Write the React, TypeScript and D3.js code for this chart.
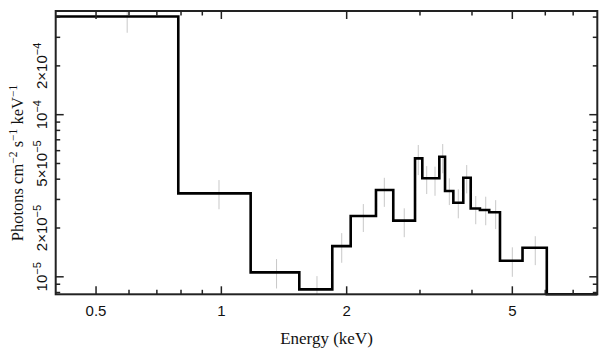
import React from "react";
import * as d3 from "d3";

// Model histogram (step) bin edges in keV and values (photons cm^-2 s^-1 keV^-1)
const binEdges = [0.4, 0.788, 1.176, 1.539, 1.847, 2.045, 2.352, 2.588, 2.919, 3.039, 3.339, 3.446, 3.608, 3.812, 3.972, 4.18, 4.4, 4.67, 5.29, 6.05, 8.0];
const modelValues = [4.03e-4, 3.27e-5, 1.065e-5, 8.36e-6, 1.547e-5, 2.37e-5, 3.43e-5, 2.22e-5, 5.38e-5, 4.05e-5, 5.5e-5, 3.38e-5, 2.86e-5, 4.08e-5, 2.64e-5, 2.58e-5, 2.5e-5, 1.255e-5, 1.51e-5, 7.0e-6];

// Data points (gray error bars)
const dataEnergy = [0.594, 0.987, 1.357, 1.697, 1.946, 2.193, 2.463, 2.75, 2.972, 3.114, 3.26, 3.402, 3.529, 3.708, 3.885, 4.084, 4.316, 4.56, 5.0, 5.676];
const dataValue = [3.9e-4, 3.28e-5, 1.067e-5, 8.5e-6, 1.54e-5, 2.35e-5, 3.39e-5, 2.2e-5, 5.37e-5, 4.03e-5, 3.97e-5, 5.47e-5, 3.41e-5, 2.88e-5, 4.08e-5, 2.63e-5, 2.6e-5, 2.47e-5, 1.26e-5, 1.48e-5];
const dataError = [0.7e-4, 0.67e-5, 0.22e-5, 0.16e-5, 0.32e-5, 0.46e-5, 0.69e-5, 0.445e-5, 1.13e-5, 0.79e-5, 0.81e-5, 1.12e-5, 0.64e-5, 0.585e-5, 0.81e-5, 0.52e-5, 0.52e-5, 0.5e-5, 0.26e-5, 0.3e-5];

// Axis ticks
const xMajorTicks = [0.5, 1, 2, 5];
const xTickLabels = ["0.5", "1", "2", "5"];
const xMinorTicks = [0.6, 0.7, 0.8, 0.9, 3, 4, 6, 7];
const yMajorTicks = [1e-5, 1e-4];
const yMinorTicks = [8e-6, 9e-6, 2e-5, 3e-5, 4e-5, 5e-5, 6e-5, 7e-5, 8e-5, 9e-5, 2e-4, 3e-4, 4e-4];
const yLabelValues = [1e-5, 2e-5, 5e-5, 1e-4, 2e-4];
const yLabelMantissa = ["", "2×", "5×", "", "2×"];
const yLabelExponent = ["−5", "−5", "−5", "−4", "−4"];

const W = 609;
const H = 357;
const left = 55.7;
const right = 597.3;
const top = 11;
const bottom = 294.3;

export default function App() {
  const x = d3.scaleLog().domain([0.4, 8]).range([left, right]);
  const y = d3.scaleLog().domain([7.8e-6, 4.36e-4]).range([bottom, top]).clamp(true);

  const stepPts: [number, number][] = modelValues.map((v, i) => [binEdges[i], v]);
  stepPts.push([binEdges[binEdges.length - 1], modelValues[modelValues.length - 1]]);
  const stepLine = d3
    .line<[number, number]>()
    .x((d) => x(d[0]))
    .y((d) => y(d[1]))
    .curve(d3.curveStepAfter);

  const axisColor = "#222";
  const sans = "'Liberation Sans', Arial, Helvetica, sans-serif";
  const serif = "'Liberation Serif', 'Times New Roman', serif";
  const yUnclamped = d3.scaleLog().domain([7.8e-6, 4.36e-4]).range([bottom, top]);

  return (
    <svg
      width={W}
      height={H}
      style={{ position: "absolute", left: 0, top: 0, background: "#fff" }}
    >
      <defs>
        <clipPath id="plotClip">
          <rect x={left} y={top} width={right - left} height={bottom - top} />
        </clipPath>
      </defs>
      <rect x={0} y={0} width={W} height={H} fill="#fff" />

      {/* error bars */}
      <g clipPath="url(#plotClip)">
        {dataEnergy.map((e, i) => (
          <line
            key={i}
            x1={x(e)}
            x2={x(e)}
            y1={yUnclamped(dataValue[i] + dataError[i])}
            y2={yUnclamped(Math.max(dataValue[i] - dataError[i], 1e-7))}
            stroke="#c8c8c8"
            strokeWidth={1}
          />
        ))}
      </g>

      {/* step model */}
      <path
        d={stepLine(stepPts) || ""}
        fill="none"
        stroke="#000"
        strokeWidth={2.6}
        strokeLinejoin="miter"
      />

      {/* frame */}
      <rect
        x={left}
        y={top}
        width={right - left}
        height={bottom - top}
        fill="none"
        stroke={axisColor}
        strokeWidth={2}
      />

      {/* x ticks */}
      {xMajorTicks.map((t) => (
        <g key={"xM" + t}>
          <line x1={x(t)} x2={x(t)} y1={bottom} y2={bottom - 8} stroke={axisColor} strokeWidth={1.5} />
          <line x1={x(t)} x2={x(t)} y1={top} y2={top + 8} stroke={axisColor} strokeWidth={1.5} />
        </g>
      ))}
      {xMinorTicks.map((t) => (
        <g key={"xm" + t}>
          <line x1={x(t)} x2={x(t)} y1={bottom} y2={bottom - 4.5} stroke={axisColor} strokeWidth={1.5} />
          <line x1={x(t)} x2={x(t)} y1={top} y2={top + 4.5} stroke={axisColor} strokeWidth={1.5} />
        </g>
      ))}
      {xMajorTicks.map((t, i) => (
        <text
          key={"xl" + t}
          x={x(t)}
          y={316}
          textAnchor="middle"
          fontFamily={sans}
          fontSize={15}
          fill="#111"
        >
          {xTickLabels[i]}
        </text>
      ))}

      {/* y ticks */}
      {yMajorTicks.map((t) => (
        <g key={"yM" + t}>
          <line x1={left} x2={left + 8} y1={y(t)} y2={y(t)} stroke={axisColor} strokeWidth={1.5} />
          <line x1={right} x2={right - 8} y1={y(t)} y2={y(t)} stroke={axisColor} strokeWidth={1.5} />
        </g>
      ))}
      {yMinorTicks.map((t) => (
        <g key={"ym" + t}>
          <line x1={left} x2={left + 4.5} y1={y(t)} y2={y(t)} stroke={axisColor} strokeWidth={1.5} />
          <line x1={right} x2={right - 4.5} y1={y(t)} y2={y(t)} stroke={axisColor} strokeWidth={1.5} />
        </g>
      ))}
      {yLabelValues.map((v, i) => (
        <text
          key={"yl" + v}
          transform={`translate(47,${y(v)}) rotate(-90)`}
          textAnchor="middle"
          fontFamily={sans}
          fontSize={15}
          fill="#111"
        >
          {yLabelMantissa[i]}10
          <tspan fontSize={11} dy={-6}>
            {yLabelExponent[i]}
          </tspan>
        </text>
      ))}

      {/* axis titles */}
      <text
        x={(left + right) / 2}
        y={344}
        textAnchor="middle"
        fontFamily={serif}
        fontSize={17}
        fill="#111"
      >
        Energy (keV)
      </text>
      <text
        transform={`translate(23,163) rotate(-90)`}
        textAnchor="middle"
        fontFamily={serif}
        fontSize={16.5}
        fill="#111"
      >
        Photons cm
        <tspan fontSize={11.5} dy={-6.5}>−2</tspan>
        <tspan dy={6.5}> s</tspan>
        <tspan fontSize={11.5} dy={-6.5}>−1</tspan>
        <tspan dy={6.5}> keV</tspan>
        <tspan fontSize={11.5} dy={-6.5}>−1</tspan>
      </text>
    </svg>
  );
}
